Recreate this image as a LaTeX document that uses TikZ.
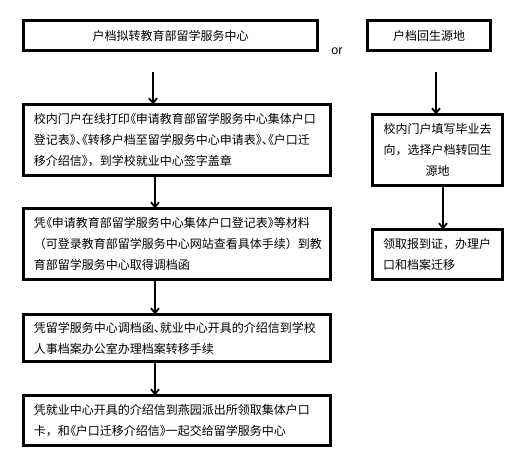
\documentclass[tikz,border=0pt]{standalone}
\usepackage{fontspec}
\setmainfont{Liberation Sans}
\newfontfamily\cjk[RawFeature=+palt]{Noto Sans CJK SC}
\newfontfamily\cjkf{Noto Sans CJK SC}
\newcommand{\fw}[1]{{\cjkf #1}}
\usetikzlibrary{arrows.meta,calc}
\begin{document}
\begin{tikzpicture}[x=1pt,y=-1pt,
  box/.style={draw,line width=3.2pt,outer sep=0pt,inner xsep=10.4pt,inner ysep=0pt,
    font=\cjk\fontsize{12}{21}\selectfont},
  wbox/.style={box,minimum width=306.8pt,text width=286pt,align=left},
  arr/.style={line width=1.8pt,-{Straight Barb[length=5pt,width=8pt]}}]
\useasboundingbox (0,0) rectangle (531,463);
\fill[white] (0,0) rectangle (531,463);

\node[box,minimum width=294pt,minimum height=30pt] (A) at (170.5,35.5) {户档拟转教育部留学服务中心};
\node[box,minimum width=123pt,minimum height=30pt] (B) at (429,35.5) {户档回生源地};
\node[font=\fontsize{12.5}{14}\selectfont] (or) at (337,51.5) {or};

\node[wbox,minimum height=70.8pt] (C) at (177,140) {校内门户在线打印《申请教育部留学服务中心集体户口\\登记表》、《转移户档至留学服务中心申请表》、《户口迁\\移介绍信》\fw{，}到学校就业中心签字盖章};
\node[wbox,minimum height=70.8pt] (D) at (177,244) {凭《申请教育部留学服务中心集体户口登记表》等材料\\\fw{（}可登录教育部留学服务中心网站查看具体手续\fw{）}到教\\育部留学服务中心取得调档函};
\node[wbox,minimum height=46.8pt] (E) at (177,338) {凭留学服务中心调档函、就业中心开具的介绍信到学校\\人事档案办公室办理档案转移手续};
\node[wbox,minimum height=49.8pt] (F) at (177,420.5) {凭就业中心开具的介绍信到燕园派出所领取集体户口\\卡\fw{，}和《户口迁移介绍信》一起交给留学服务中心};

\node[box,minimum width=129.8pt,minimum height=70.8pt,text width=110pt,inner xsep=8pt,align=center] (G) at (437.5,150) {校内门户填写毕业去\\向\fw{，}选择户档转回生\\源地};
\node[box,minimum width=129.8pt,minimum height=49.8pt,text width=109pt,align=left] (H) at (437.5,254.5) {领取报到证\fw{，}办理户\\口和档案迁移};

\coordinate (a1) at (153,72);
\coordinate (b1) at (436,72);
\draw[arr] (a1) -- (a1 |- C.north);
\draw[arr] ([xshift=-22pt]C.south) -- ([xshift=-22pt]D.north);
\draw[arr] ([xshift=-22pt]D.south) -- ([xshift=-22pt]E.north);
\draw[arr] ([xshift=-22pt]E.south) -- ([xshift=-22pt]F.north);
\draw[arr] (b1) -- (b1 |- G.north);
\draw[arr] ([xshift=5.5pt]G.south) -- ([xshift=5.5pt]H.north);
\end{tikzpicture}
\end{document}
